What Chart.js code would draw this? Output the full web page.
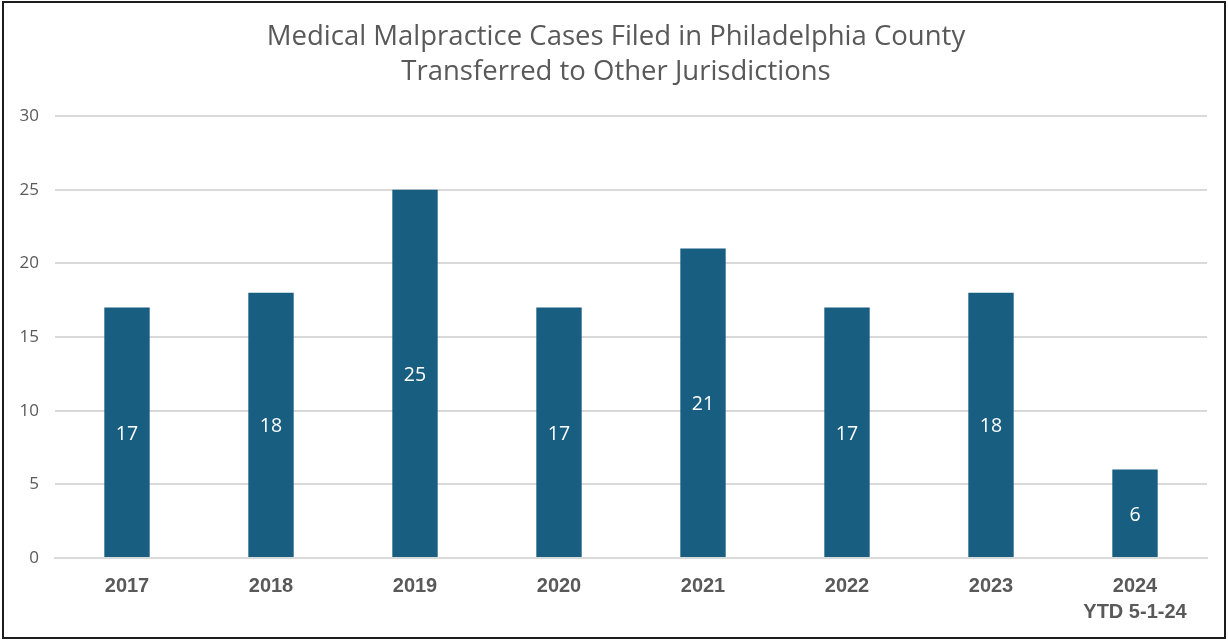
<!DOCTYPE html>
<html>
<head>
<meta charset="utf-8">
<script src="https://cdn.jsdelivr.net/npm/chart.js@4/dist/chart.umd.min.js"></script>
<style>
  html, body { margin: 0; padding: 0; background: #fff; }
  #wrap { position: relative; width: 1228px; height: 641px; }
  #frame {
    position: absolute; left: 2px; top: 1px; width: 1220px; height: 634px;
    border: 2px solid #1c1c1c; pointer-events: none;
  }
  canvas { position: absolute; left: 0; top: 0; }
</style>
</head>
<body>
<div id="wrap">
  <canvas id="chart" width="1228" height="641"></canvas>
  <div id="frame"></div>
</div>
<script>
// ── Datos ────────────────────────────────────────────────
const titleLines = [
  "Medical Malpractice Cases Filed in Philadelphia County",
  "Transferred to Other Jurisdictions"
]
const years  = ["2017", "2018", "2019", "2020", "2021", "2022", "2023", ["2024", "YTD 5-1-24"]]
const cases  = [17, 18, 25, 17, 21, 17, 18, 6]
const yTicks = [0, 5, 10, 15, 20, 25, 30]

const barColor  = "#175e80"
const textGray  = "#595959"
const gridGray  = "#d9d9d9"

// Título dibujado a mano (centrado en todo el ancho)
const titlePlugin = {
  id: "manualTitle",
  afterDraw(chart) {
    const ctx = chart.ctx
    ctx.save()
    ctx.fillStyle = textGray
    ctx.font = "27.5px 'Open Sans'"
    ctx.textAlign = "center"
    ctx.textBaseline = "middle"
    titleLines.forEach((t, i) => ctx.fillText(t, 616, 37 + i * 35))
    ctx.restore()
  }
}

// Etiquetas de valor en el centro de cada barra
const valueLabels = {
  id: "valueLabels",
  afterDatasetsDraw(chart) {
    const ctx = chart.ctx
    const meta = chart.getDatasetMeta(0)
    ctx.save()
    ctx.fillStyle = "#ffffff"
    ctx.font = "19.5px 'Open Sans'"
    ctx.textAlign = "center"
    ctx.textBaseline = "middle"
    meta.data.forEach((bar, i) => {
      const mid = (bar.y + bar.base) / 2 + 2
      ctx.fillText(String(cases[i]), bar.x, mid)
    })
    ctx.restore()
  }
}

new Chart(document.getElementById("chart"), {
  type: "bar",
  data: {
    labels: years,
    datasets: [{
      data: cases,
      backgroundColor: barColor,
      borderWidth: 0,
      categoryPercentage: 1,
      barPercentage: 0.315
    }]
  },
  options: {
    responsive: false,
    animation: false,
    layout: { padding: { top: 116, right: 21, bottom: 1, left: 0 } },
    plugins: {
      legend: { display: false },
      tooltip: { enabled: false }
    },
    scales: {
      x: {
        grid: { display: false, drawTicks: false },
        border: { display: true, color: gridGray, width: 2 },
        ticks: {
          color: textGray,
          font: { family: "'Liberation Sans'", size: 20, weight: "bold", lineHeight: 1.3 },
          padding: 15,
          maxRotation: 0
        }
      },
      y: {
        min: 0,
        max: 30,
        afterBuildTicks: axis => { axis.ticks = yTicks.map(v => ({ value: v })) },
        afterFit: axis => { axis.width = 55 },
        grid: { color: gridGray, lineWidth: 2, drawTicks: false },
        border: { display: false },
        ticks: {
          color: textGray,
          font: { family: "'Open Sans'", size: 17 },
          padding: 16
        }
      }
    }
  },
  plugins: [titlePlugin, valueLabels]
})
</script>
</body>
</html>
